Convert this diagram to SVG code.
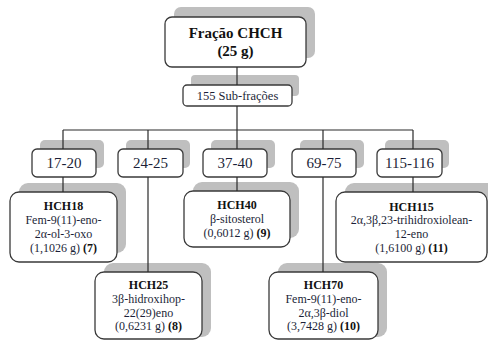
<svg xmlns="http://www.w3.org/2000/svg" width="488" height="341" viewBox="0 0 488 341">
<style>
.sh{fill:#bfbfbf}
.bx{fill:#ffffff;stroke:#3a3a3a;stroke-width:1.3}
.t{font-family:"Liberation Serif","Times New Roman",serif;fill:#1c1f38;text-anchor:middle}
.b{font-weight:bold;fill:#111111}
.ln{stroke:#2a2a2a;stroke-width:1.2;fill:none}
</style>
<rect width="488" height="341" fill="#ffffff"/>
<g id="root">
<rect class="sh" x="174" y="7" width="141" height="51" rx="7"/>
<rect class="bx" x="165" y="17" width="141" height="50" rx="7"/>
<text class="t b" x="235.5" y="38" font-size="15">Fração CHCH</text>
<text class="t b" x="235.5" y="56" font-size="15">(25 g)</text>
</g>
<g id="sub">
<rect class="sh" x="191" y="75" width="108" height="21" rx="4"/>
<rect class="bx" x="183" y="85" width="109" height="21" rx="4"/>
<text class="t" x="237.5" y="100" font-size="12.5">155 Sub-frações</text>
</g>
<g id="r1720">
<rect class="sh" x="40" y="140" width="64" height="28" rx="5"/>
<rect class="bx" x="32" y="149" width="64" height="28" rx="5"/>
<text class="t" x="64" y="168" font-size="15">17-20</text>
</g>
<g id="r2425">
<rect class="sh" x="126" y="140" width="64" height="28" rx="5"/>
<rect class="bx" x="118" y="149" width="65" height="28" rx="5"/>
<text class="t" x="150.5" y="168" font-size="15">24-25</text>
</g>
<g id="r3740">
<rect class="sh" x="211" y="140" width="64" height="28" rx="5"/>
<rect class="bx" x="203" y="149" width="64" height="28" rx="5"/>
<text class="t" x="235" y="168" font-size="15">37-40</text>
</g>
<g id="r6975">
<rect class="sh" x="300" y="140" width="64" height="28" rx="5"/>
<rect class="bx" x="292" y="149" width="64" height="28" rx="5"/>
<text class="t" x="324" y="168" font-size="15">69-75</text>
</g>
<g id="r115116">
<rect class="sh" x="385" y="140" width="64" height="28" rx="5"/>
<rect class="bx" x="377" y="149" width="65" height="28" rx="5"/>
<text class="t" x="409.5" y="168" font-size="15">115-116</text>
</g>
<g id="hch18">
<rect class="sh" x="19" y="183" width="107" height="70" rx="9"/>
<rect class="bx" x="10" y="192" width="107" height="70" rx="9"/>
<text class="t b" x="63.5" y="210" font-size="12">HCH18</text>
<text class="t" x="63.5" y="224" font-size="12">Fem-9(11)-eno-</text>
<text class="t" x="63.5" y="238" font-size="12">2α-ol-3-oxo</text>
<text class="t" x="63.5" y="252" font-size="12">(1,1026 g) <tspan class="b">(7)</tspan></text>
</g>
<g id="hch40">
<rect class="sh" x="193" y="182" width="106" height="56" rx="9"/>
<rect class="bx" x="184" y="191" width="106" height="56" rx="9"/>
<text class="t b" x="237" y="209" font-size="12">HCH40</text>
<text class="t" x="237" y="223" font-size="12">β-sitosterol</text>
<text class="t" x="237" y="237" font-size="12">(0,6012 g) <tspan class="b">(9)</tspan></text>
</g>
<g id="hch115">
<rect class="sh" x="345" y="183" width="151" height="70" rx="9"/>
<rect class="bx" x="336" y="192" width="151" height="70" rx="9"/>
<text class="t b" x="411.5" y="211" font-size="12">HCH115</text>
<text class="t" x="411.5" y="224" font-size="12">2α,3β,23-trihidroxiolean-</text>
<text class="t" x="411.5" y="238" font-size="12">12-eno</text>
<text class="t" x="411.5" y="252" font-size="12">(1,6100 g) <tspan class="b">(11)</tspan></text>
</g>
<g id="hch25">
<rect class="sh" x="104" y="263" width="107" height="74" rx="9"/>
<rect class="bx" x="95" y="272" width="107" height="67" rx="9"/>
<text class="t b" x="148.5" y="289" font-size="12">HCH25</text>
<text class="t" x="148.5" y="303" font-size="12">3β-hidroxihop-</text>
<text class="t" x="148.5" y="317" font-size="12">22(29)eno</text>
<text class="t" x="148.5" y="330" font-size="12">(0,6231 g) <tspan class="b">(8)</tspan></text>
</g>
<g id="hch70">
<rect class="sh" x="278" y="263" width="109" height="74" rx="9"/>
<rect class="bx" x="269" y="272" width="109" height="67" rx="9"/>
<text class="t b" x="323.5" y="289" font-size="12">HCH70</text>
<text class="t" x="323.5" y="303" font-size="12">Fem-9(11)-eno-</text>
<text class="t" x="323.5" y="317" font-size="12">2α,3β-diol</text>
<text class="t" x="323.5" y="330" font-size="12">(3,7428 g) <tspan class="b">(10)</tspan></text>
</g>
<g id="connectors">
<path class="ln" d="M237 67V85M237 106V149M63 130H413M63 130V149M148 130V149M323 130V149M413 130V149"/>
<path class="ln" d="M63 177V192M237 177V191M413 177V192M148 177V272M323 177V272"/>
</g>
</svg>
